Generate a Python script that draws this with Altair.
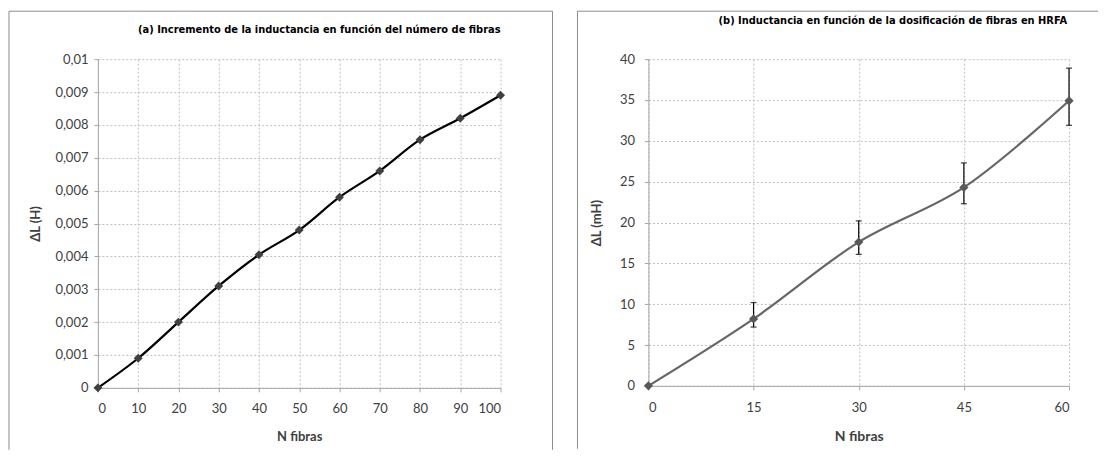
import altair as alt
import pandas as pd

# ---------------- data ----------------
# Panel (a)
n_a = [0, 10, 20, 30, 40, 50, 60, 70, 80, 90, 100]
dl_a = [0, 0.0009, 0.002, 0.0031, 0.00405, 0.0048, 0.0058, 0.0066, 0.00755, 0.0082, 0.0089]
x_ticks_a = [0, 10, 20, 30, 40, 50, 60, 70, 80, 90, 100]
y_ticks_a = [0, 0.001, 0.002, 0.003, 0.004, 0.005, 0.006, 0.007, 0.008, 0.009, 0.01]

# Panel (b)
n_b = [0, 15, 30, 45, 60]
dl_b = [0, 8.2, 17.6, 24.3, 34.9]
err_lo_b = [0, 7.2, 16.1, 22.3, 31.9]
err_hi_b = [0, 10.2, 20.2, 27.3, 38.9]
x_ticks_b = [0, 15, 30, 45, 60]
y_ticks_b = [0, 5, 10, 15, 20, 25, 30, 35, 40]

title_a = ["(a) Incremento de la inductancia en función del número de fibras"]
title_b = ["(b) Inductancia en función de la dosificación de fibras en HRFA"]

df_a = pd.DataFrame({"n": n_a, "dl": dl_a})
df_b = pd.DataFrame({"n": n_b, "dl": dl_b, "lo": err_lo_b, "hi": err_hi_b})
df_err = df_b[df_b["hi"] > df_b["lo"]]
dummy = pd.DataFrame({"d": [0]})

# ---------------- style ----------------
W_A, H_A = 403, 329
W_B, H_B = 421, 327
GRID = "#bfbfbf"
AXC = "#a6a6a6"
TXT = "#404040"
BORDER = "#8c8c8c"
LABEL_FONT = "Lato"
TITLE_FONT = "DejaVu Sans Condensed, sans-serif"


def axis(values, title, orient, label_pad, title_pad, fmt=None, title_size=13):
    kw = dict(
        values=values, title=title, grid=True, gridDash=[2, 2], gridColor=GRID,
        domainColor=AXC, tickColor=AXC, tickSize=4, labelPadding=label_pad,
        titlePadding=title_pad, labelFont=LABEL_FONT, labelFontSize=13,
        labelColor=TXT, titleFont=LABEL_FONT, titleFontSize=title_size,
        titleFontWeight="bold", titleColor=TXT, orient=orient,
    )
    if fmt:
        kw["labelExpr"] = fmt
    return alt.Axis(**kw)


def border(left, right, top, bottom, draw_right=True):
    base = alt.Chart(dummy).mark_rule(color=BORDER, strokeWidth=1)
    layers = [
        base.encode(x=alt.value(left), x2=alt.value(right), y=alt.value(top)),
        base.encode(x=alt.value(left), y=alt.value(top), y2=alt.value(bottom)),
    ]
    if draw_right:
        layers.append(base.encode(x=alt.value(right), y=alt.value(top), y2=alt.value(bottom)))
    return layers


def title_text(text, xpos, ypos, size):
    return alt.Chart(pd.DataFrame({"t": text})).mark_text(
        align="right", baseline="alphabetic", font=TITLE_FONT, fontSize=size,
        fontWeight="bold", color="black",
    ).encode(text="t:N", x=alt.value(xpos), y=alt.value(ypos))


comma = "replace(format(datum.value, '~g'), '.', ',')"

# ---------------- panel (a) ----------------
xa = alt.X("n:Q", scale=alt.Scale(domain=[0, 100], nice=False),
           axis=axis(x_ticks_a, "N fibras", "bottom", 11, 15))
ya = alt.Y("dl:Q", scale=alt.Scale(domain=[0, 0.01], nice=False),
           axis=axis(y_ticks_a, "ΔL (H)", "left", 6, 12, fmt=comma))

base_a = alt.Chart(df_a).encode(x=xa, y=ya)
line_a = base_a.mark_line(color="black", strokeWidth=2.2, interpolate="catmull-rom")
pts_a = base_a.mark_point(shape="diamond", filled=True, size=80, color=TXT, opacity=1)

panel_a = alt.layer(
    *border(-89, W_A + 52, -48, H_A + 62),
    title_text(title_a, W_A, -26, 11),
    line_a, pts_a,
).properties(width=W_A, height=H_A)

# ---------------- panel (b) ----------------
xb = alt.X("n:Q", scale=alt.Scale(domain=[0, 60], nice=False),
           axis=axis(x_ticks_b, "N fibras", "bottom", 12, 15, title_size=14))
yb = alt.Y("dl:Q", scale=alt.Scale(domain=[0, 40], nice=False),
           axis=axis(y_ticks_b, "ΔL (mH)", "left", 10, 16))

base_b = alt.Chart(df_b).encode(x=xb, y=yb)
line_b = base_b.mark_line(color="#666666", strokeWidth=2.2, interpolate="catmull-rom")
pts_b = base_b.mark_point(shape="diamond", filled=True, size=85, color="#595959", opacity=1)

err_base = alt.Chart(df_err)
err_rule = err_base.mark_rule(color="black", strokeWidth=1.2).encode(
    x="n:Q", y="lo:Q", y2="hi:Q")
err_lo = err_base.mark_tick(orient="horizontal", size=6, thickness=1.3, color="black").encode(
    x="n:Q", y="lo:Q")
err_hi = err_base.mark_tick(orient="horizontal", size=6, thickness=1.3, color="black").encode(
    x="n:Q", y="hi:Q")

panel_b = alt.layer(
    *border(-71, W_B + 29, -48, H_B + 63, draw_right=False),
    title_text(title_b, W_B - 2, -35, 11),
    line_b, err_rule, err_lo, err_hi, pts_b,
).properties(width=W_B, height=H_B)

chart = alt.hconcat(panel_a, panel_b, spacing=23).properties(
    padding={"left": 0, "top": 2, "right": 0, "bottom": 0},
    background="white",
).configure_view(stroke=None).resolve_scale(x="independent", y="independent")

chart.save("out.html", embed_options={"renderer": "svg", "actions": False})
